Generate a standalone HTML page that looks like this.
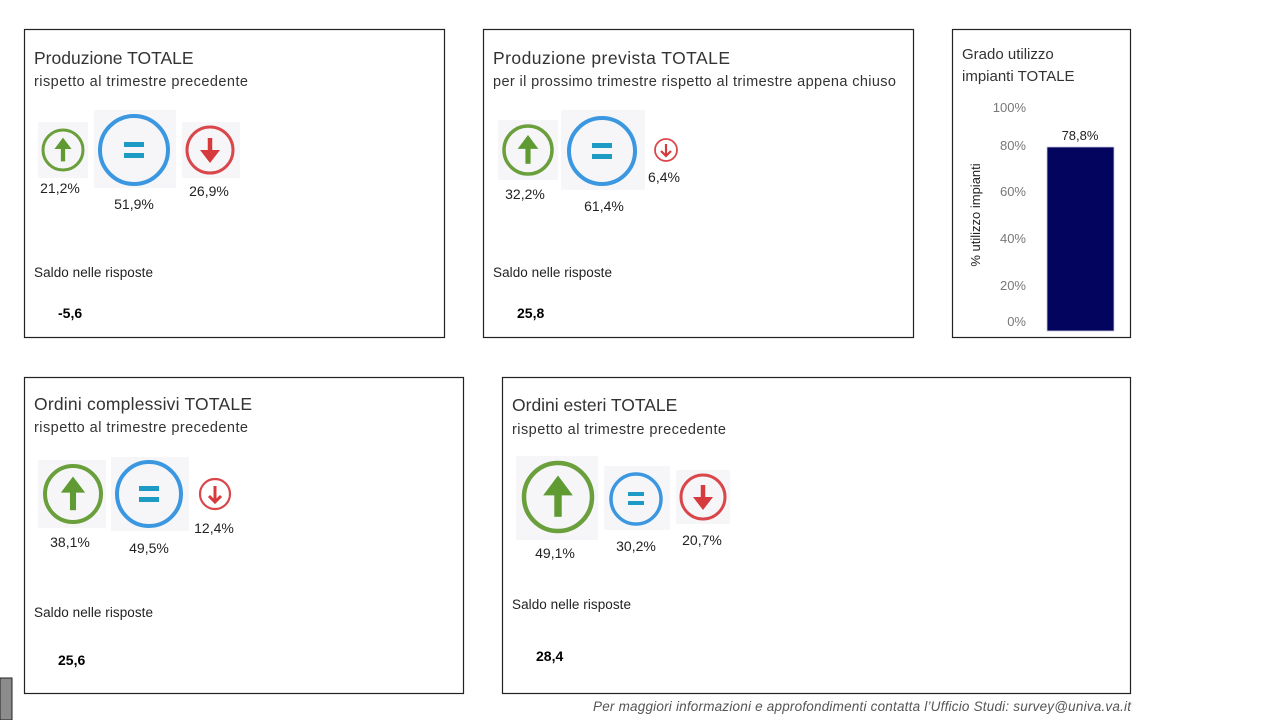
<!DOCTYPE html>
<html><head><meta charset="utf-8"><style>
body{margin:0;width:1280px;height:720px;background:#fff;overflow:hidden;font-family:"Liberation Sans",sans-serif;}
svg{position:absolute;left:0;top:0}
</style></head><body>
<svg width="1280" height="720" font-family="Liberation Sans, sans-serif">
<defs>
<g id="up"><path d="M0,-3 L0,12" stroke="#5f9a32" stroke-width="4.5"/><path d="M0,-13 L-9,-1 L9,-1 Z" fill="#5f9a32"/></g>
</defs>
<g fill="none" stroke="#222" stroke-width="1.2">
<rect x="24.5" y="29.5" width="420" height="308"/>
<rect x="483.5" y="29.5" width="430" height="308"/>
<rect x="952.5" y="29.5" width="178" height="308"/>
<rect x="24.5" y="377.5" width="439" height="316"/>
<rect x="502.5" y="377.5" width="628" height="316"/>
</g>
<rect x="0" y="678" width="12" height="42" fill="#8c8c8c" stroke="#222"/>
<g fill="#333">
<text x="34" y="64" font-size="17.5">Produzione TOTALE</text>
<text x="34" y="86" font-size="14.5" textLength="214">rispetto al trimestre precedente</text>
<text x="493" y="64" font-size="17.5" textLength="237">Produzione prevista  TOTALE</text>
<text x="493" y="86" font-size="14.5" textLength="403">per il prossimo trimestre rispetto al trimestre appena chiuso</text>
<text x="962" y="59" font-size="15">Grado utilizzo</text>
<text x="962" y="81" font-size="15">impianti TOTALE</text>
<text x="34" y="410" font-size="17.5" textLength="218">Ordini complessivi TOTALE</text>
<text x="34" y="432" font-size="14.5" textLength="214">rispetto al trimestre precedente</text>
<text x="512" y="411" font-size="17.5">Ordini esteri TOTALE</text>
<text x="512" y="434" font-size="14.5" textLength="214">rispetto al trimestre precedente</text>
</g>
<g fill="#222" font-size="13.5">
<text x="34" y="277" textLength="119">Saldo nelle risposte</text>
<text x="493" y="277" textLength="119">Saldo nelle risposte</text>
<text x="34" y="617" textLength="119">Saldo nelle risposte</text>
<text x="512" y="609" textLength="119">Saldo nelle risposte</text>
</g>
<g fill="#000" font-size="14" font-weight="bold">
<text x="58" y="318">-5,6</text>
<text x="517" y="318">25,8</text>
<text x="58" y="665">25,6</text>
<text x="536" y="661">28,4</text>
</g>
<g fill="#f6f6f9">
<rect x="38" y="122" width="50" height="56"/><rect x="94" y="110" width="82" height="78"/><rect x="182" y="122" width="58" height="56"/>
<rect x="498" y="120" width="60" height="60"/><rect x="561" y="110" width="84" height="80"/>
<rect x="38" y="460" width="68" height="68"/><rect x="111" y="457" width="78" height="74"/>
<rect x="516" y="456" width="82" height="84"/><rect x="604" y="466" width="66" height="64"/><rect x="676" y="470" width="54" height="54"/>
</g>
<g>
<circle cx="63" cy="150" r="20" fill="none" stroke="#6a9f3c" stroke-width="3"/><use href="#up" transform="translate(63,150) scale(0.95)"/>
<circle cx="528" cy="150" r="24" fill="none" stroke="#6a9f3c" stroke-width="3.5"/><use href="#up" transform="translate(528,150) scale(1.15)"/>
<circle cx="73" cy="494" r="28" fill="none" stroke="#6a9f3c" stroke-width="4"/><use href="#up" transform="translate(73,494) scale(1.35)"/>
<circle cx="558" cy="497" r="34" fill="none" stroke="#6a9f3c" stroke-width="4.5"/><use href="#up" transform="translate(558,497) scale(1.65)"/>
</g>
<g>
<circle cx="134" cy="150" r="34" fill="none" stroke="#3a97e0" stroke-width="4"/><rect x="124" y="142" width="20" height="5" fill="#1e9bc4"/><rect x="124" y="153" width="20" height="5" fill="#1e9bc4"/>
<circle cx="602" cy="151" r="33" fill="none" stroke="#3a97e0" stroke-width="4"/><rect x="592" y="143" width="20" height="5" fill="#1e9bc4"/><rect x="592" y="154" width="20" height="5" fill="#1e9bc4"/>
<circle cx="149" cy="494" r="32" fill="none" stroke="#3a97e0" stroke-width="4"/><rect x="139" y="486" width="20" height="5" fill="#1e9bc4"/><rect x="139" y="497" width="20" height="5" fill="#1e9bc4"/>
<circle cx="636" cy="499" r="25" fill="none" stroke="#3a97e0" stroke-width="3.5"/><rect x="628" y="492" width="16" height="4" fill="#1e9bc4"/><rect x="628" y="501" width="16" height="4" fill="#1e9bc4"/>
</g>
<g fill="none" stroke="#d9474a">
<circle cx="210" cy="150" r="23" stroke-width="3"/><path d="M210,138 V160" stroke-width="4.5" stroke="#d63a3d"/><path d="M200,150 L220,150 L210,163Z" fill="#d63a3d" stroke="none"/>
<circle cx="666" cy="150" r="11" stroke-width="1.8"/><path d="M666,144 V156 M661,151 L666,156 L671,151" stroke-width="2.2" stroke="#d63a3d"/>
<circle cx="215" cy="494" r="15" stroke-width="2.2"/><path d="M215,486 V502 M209,496 L215,502 L221,496" stroke-width="3" stroke="#d63a3d"/>
<circle cx="703" cy="497" r="22" stroke-width="3"/><path d="M703,485 V507" stroke-width="4.5" stroke="#d63a3d"/><path d="M693,497 L713,497 L703,510Z" fill="#d63a3d" stroke="none"/>
</g>
<g fill="#222" font-size="14" text-anchor="middle">
<text x="60" y="193">21,2%</text><text x="134" y="209">51,9%</text><text x="209" y="196">26,9%</text>
<text x="525" y="199">32,2%</text><text x="604" y="211">61,4%</text><text x="664" y="182">6,4%</text>
<text x="70" y="547">38,1%</text><text x="149" y="553">49,5%</text><text x="214" y="533">12,4%</text>
<text x="555" y="558">49,1%</text><text x="636" y="551">30,2%</text><text x="702" y="545">20,7%</text>
</g>
<g fill="#777" font-size="13" text-anchor="end">
<text x="1026" y="112">100%</text><text x="1026" y="150">80%</text><text x="1026" y="196">60%</text>
<text x="1026" y="243">40%</text><text x="1026" y="290">20%</text><text x="1026" y="326">0%</text>
</g>
<rect x="1047" y="147" width="67" height="184" fill="#03045e" stroke="#c8c8e0" stroke-width="0.8"/>
<text x="1080" y="140" font-size="13" fill="#222" text-anchor="middle">78,8%</text>
<text transform="translate(980,215) rotate(-90)" font-size="13" fill="#222" text-anchor="middle">% utilizzo impianti</text>
<text x="1131" y="711" font-size="13.5" font-style="italic" fill="#555" text-anchor="end" textLength="538">Per maggiori informazioni e approfondimenti contatta l’Ufficio Studi: survey@univa.va.it</text>
</svg>
</body></html>
